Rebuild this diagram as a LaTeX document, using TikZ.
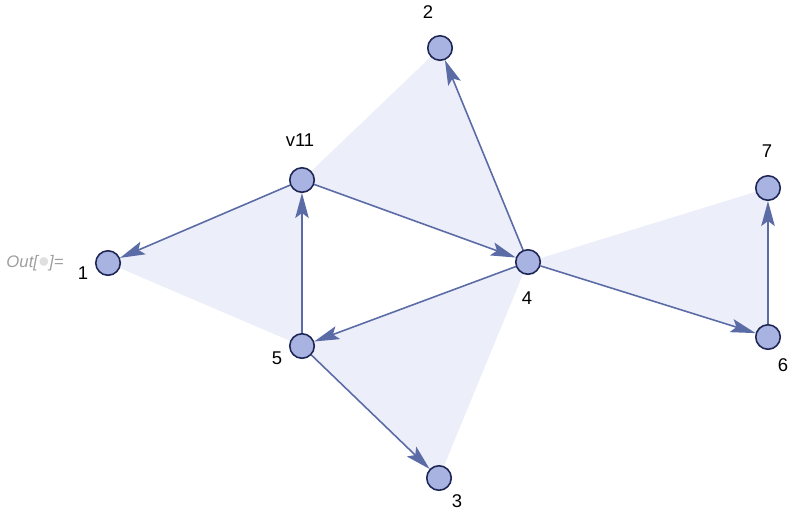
\documentclass[tikz,border=0pt]{standalone}
\usepackage{fontspec}
\setmainfont{Liberation Sans}
\usepackage{xcolor}
\definecolor{vertexfill}{HTML}{A9B3E2}
\definecolor{vertexline}{HTML}{1C2553}
\definecolor{edgeblue}{HTML}{5B6BA6}
\definecolor{facefill}{HTML}{ECEEF9}
\usetikzlibrary{arrows.meta,positioning,backgrounds}

\begin{document}
\begin{tikzpicture}[x=0.02cm,y=-0.02cm,font=\fontsize{10.5}{12}\selectfont,
  vertex/.style={circle,draw=vertexline,fill=vertexfill,line width=0.9pt,
                 minimum size=0.49cm,inner sep=0pt},
  vlabel/.style={inner sep=0pt,text=black},
  arc/.style={draw=edgeblue,line width=0.9pt,
              -{Stealth[length=0.5cm,width=0.27cm,inset=0.1cm]}},
  face/.style={fill=facefill,draw=none}]
  \useasboundingbox (0,0) rectangle (797,518);
  % Vertices
  \node[vertex] (v1)  at (108,263) {};
  \node[vertex] (v2)  at (440,48)  {};
  \node[vertex] (v3)  at (439,478) {};
  \node[vertex] (v4)  at (528,262) {};
  \node[vertex] (v5)  at (302,346) {};
  \node[vertex] (v6)  at (768,337) {};
  \node[vertex] (v7)  at (768,188) {};
  \node[vertex] (v11) at (302,180) {};
  % Vertex labels
  \node[vlabel] (l1)  at (83,273)  {1};
  \node[vlabel] (l2)  at (428,12)  {2};
  \node[vlabel] (l3)  at (457,501) {3};
  \node[vlabel] (l4)  at (527,298) {4};
  \node[vlabel] (l5)  at (277,358) {5};
  \node[vlabel] (l6)  at (783,365) {6};
  \node[vlabel] (l7)  at (767,151) {7};
  \node[vlabel] (l11) at (300,140) {v11};
  % Output prompt
  \node[text=gray!75,font=\fontsize{9.5}{11}\itshape,inner sep=0pt] (out) at (35,264)
    {Out[{\color{gray!25}\raisebox{-0.5ex}{\scalebox{1.9}{\textbullet}}}]=};
  % Faces
  \begin{scope}[on background layer]
    \fill[face] (v11.center) -- (v2.center) -- (v4.center) -- cycle;
    \fill[face] (v1.center) -- (v11.center) -- (v5.center) -- cycle;
    \fill[face] (v5.center) -- (v4.center) -- (v3.center) -- cycle;
    \fill[face] (v4.center) -- (v7.center) -- (v6.center) -- cycle;
  \end{scope}
  % Edges
  \begin{scope}[on background layer]
    \draw[arc] (v11) -- (v1);
    \draw[arc] (v11) -- (v4);
    \draw[arc] (v4) -- (v2);
    \draw[arc] (v5) -- (v11);
    \draw[arc] (v4) -- (v5);
    \draw[arc] (v5) -- (v3);
    \draw[arc] (v4) -- (v6);
    \draw[arc] (v6) -- (v7);
  \end{scope}
\end{tikzpicture}
\end{document}
